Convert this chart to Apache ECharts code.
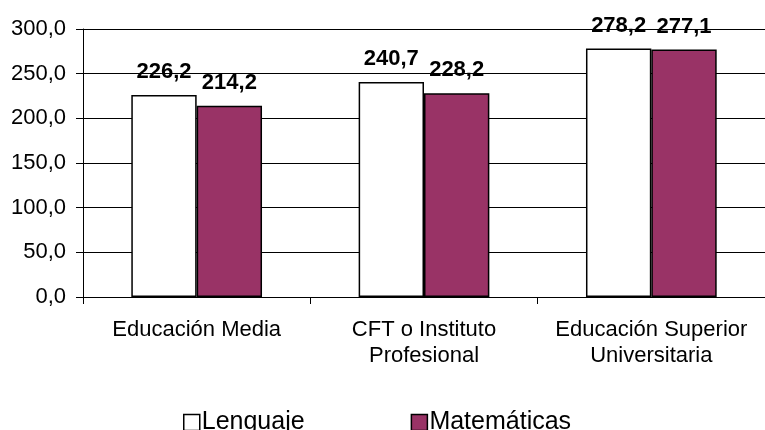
<!DOCTYPE html>
<html lang="es">
<head>
    <meta charset="UTF-8">
    <title>Puntajes por nivel educacional</title>
    <style>
        html, body { margin: 0; padding: 0; background: #fff; }
        #main { width: 765px; height: 430px; }
    </style>
</head>
<body>
    <div id="main"></div>
    <script src="https://cdn.jsdelivr.net/npm/echarts@6/dist/echarts.min.js"></script>
    <script>
        // datos
        var categorias = ['Educación Media', 'CFT o Instituto\nProfesional', 'Educación Superior\nUniversitaria'];
        var lenguaje = [226.2, 240.7, 278.2];
        var matematicas = [214.2, 228.2, 277.1];
        var nombres = ['Lenguaje', 'Matemáticas'];

        function coma(v) {
            return v.toFixed(1).replace('.', ',');
        }

        var fuente = 'Liberation Sans, Arial, sans-serif';
        var etiqueta = {
            show: true,
            position: 'top',
            distance: 12,
            fontFamily: fuente,
            fontSize: 22,
            fontWeight: 'bold',
            color: '#000',
            formatter: function (p) { return coma(p.value); }
        };

        var myChart = echarts.init(document.getElementById('main'));
        var option = {
            animation: false,
            grid: { left: 83, right: -7, top: 29, bottom: 133 },
            legend: {
                data: nombres,
                top: 405,
                left: 178,
                icon: 'rect',
                itemWidth: 16,
                itemHeight: 16,
                itemGap: 106,
                itemStyle: { borderColor: '#000', borderWidth: 1.5 },
                textStyle: { fontFamily: fuente, fontSize: 25, color: '#000', padding: [0, 0, 0, -3] }
            },
            xAxis: {
                type: 'category',
                data: categorias,
                axisLine: { lineStyle: { color: '#000', width: 1 } },
                axisTick: { show: true, length: 7, lineStyle: { color: '#000' } },
                axisLabel: {
                    margin: 20,
                    fontFamily: fuente,
                    fontSize: 22,
                    lineHeight: 26,
                    color: '#000',
                    interval: 0
                }
            },
            yAxis: {
                type: 'value',
                min: 0,
                max: 300,
                interval: 50,
                axisLine: { show: true, lineStyle: { color: '#000' } },
                axisTick: { show: true, length: 7, lineStyle: { color: '#000' } },
                splitLine: { lineStyle: { color: '#000', width: 1 } },
                axisLabel: {
                    margin: 17,
                    fontFamily: fuente,
                    fontSize: 22,
                    color: '#000',
                    formatter: coma
                }
            },
            series: [
                {
                    name: nombres[0],
                    type: 'bar',
                    data: lenguaje,
                    barGap: '0%',
                    barCategoryGap: '42.5%',
                    itemStyle: { color: '#ffffff', borderColor: '#000', borderWidth: 1.5 },
                    label: etiqueta
                },
                {
                    name: nombres[1],
                    type: 'bar',
                    data: matematicas,
                    itemStyle: { color: '#993366', borderColor: '#000', borderWidth: 1.5 },
                    label: etiqueta
                }
            ]
        };
        myChart.setOption(option);
    </script>
</body>
</html>
